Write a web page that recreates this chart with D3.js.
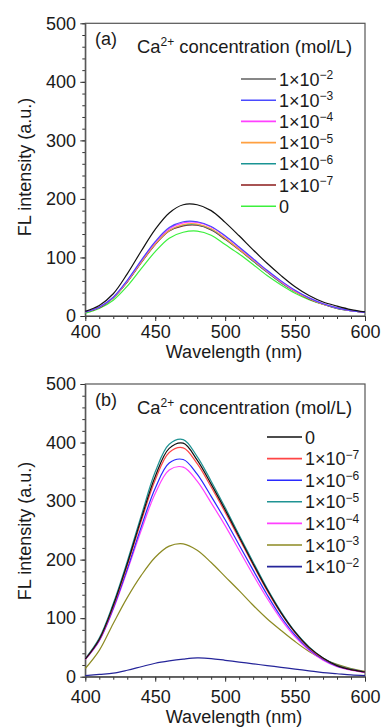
<!DOCTYPE html>
<html>
<head>
<meta charset="utf-8">
<script src="https://cdn.jsdelivr.net/npm/d3@7"></script>
<style>
body { margin: 0; background: #fff; }
svg { display: block; font-family: "Liberation Sans", Arial, sans-serif; }
</style>
</head>
<body>
<div id="chart"></div>
<script>
// wavelength grid (nm), read every 10 nm
const wavelength = [400,410,420,430,440,450,460,470,480,490,500,510,520,530,540,550,560,570,580,590,600];
const xTicks = [400,450,500,550,600];
const yTicks = [0,100,200,300,400,500];

// panel (a)
const seriesA = ["1×10^−2","1×10^−3","1×10^−4","1×10^−5","1×10^−6","1×10^−7","0"];
const valuesA = [
  [8,18,38,72,111,148,176,190,190,180,160,137,113,90,69,50,35,24,17,11,7],
  [7,15,32,61,95,127,151,161,161,153,137,118,98,78,60,44,31,21,14,9,6],
  [7,15,32,60,94,126,149,159,160,152,136,117,97,77,59,43,31,21,14,9,6],
  [7,15,31,59,92,123,146,156,157,149,133,114,95,76,58,42,30,20,14,9,6],
  [7,15,31,59,92,123,146,155,156,148,132,114,94,75,57,42,30,20,13,9,6],
  [7,14,31,58,91,122,145,154,155,147,131,113,94,75,57,42,29,20,13,9,6],
  [5,13,27,51,81,110,133,143,145,138,122,106,88,69,53,39,28,20,14,9,6]
];
const colorsA = ["#111111","#4a4aff","#ff40ff","#ffa040","#1a9494","#8b1a1a","#3cf03c"];

// panel (b)
const seriesB = ["0","1×10^−7","1×10^−6","1×10^−5","1×10^−4","1×10^−3","1×10^−2"];
const valuesB = [
  [30,64,122,193,270,342,390,399,370,329,285,239,193,149,109,76,50,32,19,12,8],
  [30,63,120,190,266,336,383,391,364,324,281,236,191,147,108,75,49,31,19,12,8],
  [30,62,117,184,256,322,365,371,346,308,268,225,182,140,102,71,47,30,18,12,8],
  [31,66,125,197,275,350,397,405,376,334,289,242,196,151,111,77,51,32,20,13,8],
  [29,61,115,181,250,313,353,358,334,297,258,216,174,134,98,68,45,28,17,11,7],
  [14,45,91,135,173,204,223,227,216,195,171,147,122,99,79,60,43,30,21,14,9],
  [2,4,6,11,17,23,27,30,32,31,28,25,22,19,16,13,10,7,5,3,2]
];
const colorsB = ["#111111","#ff4545","#2a2aff","#1f9393","#ff40ff","#8c8a22","#25259a"];

const width = 385, height = 727;
const svg = d3.select("#chart").append("svg")
  .attr("width", width)
  .attr("height", height);

function addLabel(sel, label) {
  const parts = label.split("^");
  sel.append("tspan").text(parts[0]);
  if (parts[1]) sel.append("tspan").attr("font-size", 12).attr("dy", -6.5).text(parts[1]);
}

function drawPanel(p) {
  const x = d3.scaleLinear().domain([400, 600]).range([85.3, 365]);
  const y = d3.scaleLinear().domain([0, 500]).range([p.bottom, p.top]);
  const g = svg.append("g");

  // minor ticks
  g.append("g")
    .attr("transform", `translate(0,${p.bottom})`)
    .call(d3.axisBottom(x).tickValues(d3.range(400, 601, 10)).tickSize(3).tickFormat("").tickSizeOuter(0))
    .call(a => a.select(".domain").remove());
  g.append("g")
    .attr("transform", `translate(${x(400)},0)`)
    .call(d3.axisLeft(y).tickValues(d3.range(0, 501, 20)).tickSize(3).tickFormat("").tickSizeOuter(0))
    .call(a => a.select(".domain").remove());

  // major ticks
  const xa = g.append("g")
    .attr("transform", `translate(0,${p.bottom})`)
    .call(d3.axisBottom(x).tickValues(xTicks).tickSize(5).tickPadding(p.xPad).tickSizeOuter(0));
  const ya = g.append("g")
    .attr("transform", `translate(${x(400)},0)`)
    .call(d3.axisLeft(y).tickValues(yTicks).tickSize(5).tickPadding(4.3).tickSizeOuter(0));
  [xa, ya].forEach(a => {
    a.selectAll("text").attr("font-size", 18).attr("fill", "#1a1a1a")
      .attr("font-family", "Liberation Sans, Arial, sans-serif");
    a.selectAll("line,path").attr("stroke", "#333");
  });
  g.selectAll(".tick line").attr("stroke", "#333");

  // frame
  g.append("rect")
    .attr("x", x(400)).attr("y", p.top)
    .attr("width", x(600) - x(400)).attr("height", p.bottom - p.top)
    .attr("fill", "none").attr("stroke", "#555").attr("stroke-width", 1.2);

  // curves
  const line = d3.line()
    .x((d, i) => x(wavelength[i]))
    .y(d => y(d))
    .curve(d3.curveCatmullRom);
  for (let i = p.values.length - 1; i >= 0; i--) {
    g.append("path")
      .attr("d", line(p.values[i]))
      .attr("fill", "none")
      .attr("stroke", p.colors[i])
      .attr("stroke-width", 1.2);
  }

  // tag + legend title
  g.append("text").attr("x", 95).attr("y", p.top + 21.5)
    .attr("font-size", 18).attr("fill", "#1a1a1a").text(p.tag);
  const t = g.append("text").attr("x", 137).attr("y", p.top + 29.5)
    .attr("font-size", 18.4).attr("fill", "#1a1a1a");
  t.append("tspan").text("Ca");
  t.append("tspan").attr("font-size", 12).attr("dy", -6.5).text("2+");
  t.append("tspan").attr("dy", 6.5).text(" concentration (mol/L)");

  // legend
  p.names.forEach((name, i) => {
    const ly = p.legY + i * p.legStep;
    g.append("line")
      .attr("x1", p.legX).attr("x2", p.legX + 35)
      .attr("y1", ly).attr("y2", ly)
      .attr("stroke", p.colors[i]).attr("stroke-width", i === 0 && p.tag === "(a)" ? 1.2 : 1.6);
    const tx = g.append("text")
      .attr("x", p.legX + 38).attr("y", ly + 6.5)
      .attr("font-size", 18).attr("fill", "#1a1a1a");
    addLabel(tx, name);
  });

  // axis titles
  g.append("text")
    .attr("x", 234).attr("y", p.xTitleY)
    .attr("text-anchor", "middle").attr("font-size", 18).attr("fill", "#1a1a1a")
    .text("Wavelength (nm)");
  g.append("text")
    .attr("transform", `translate(30.5,${p.yTitleY}) rotate(-90)`)
    .attr("text-anchor", "middle").attr("font-size", 18).attr("fill", "#1a1a1a")
    .text("FL intensity (a.u.)");
}

drawPanel({
  top: 23.3, bottom: 316, xPad: 3.8, tag: "(a)",
  names: seriesA, values: valuesA, colors: colorsA,
  legX: 241, legY: 79, legStep: 21.2,
  xTitleY: 358, yTitleY: 167
});

drawPanel({
  top: 384, bottom: 676.7, xPad: 8.5, tag: "(b)",
  names: seriesB, values: valuesB, colors: colorsB,
  legX: 267, legY: 437, legStep: 21.6,
  xTitleY: 723, yTitleY: 531
});
</script>
</body>
</html>
